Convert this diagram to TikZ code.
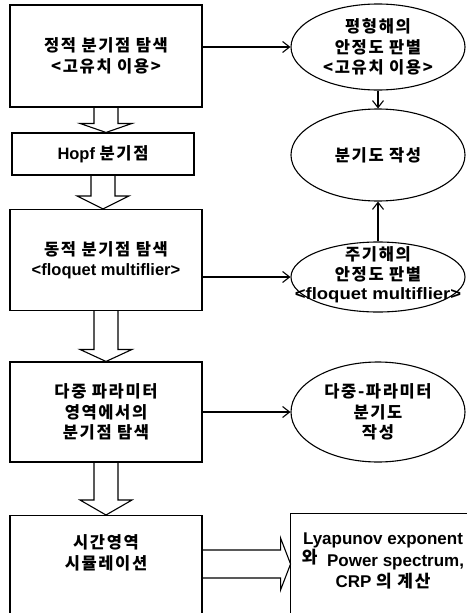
\documentclass[tikz,border=0pt]{standalone}
\usepackage{fontspec}
\setmainfont{Liberation Sans}
\newfontfamily\kr[LetterSpace=10]{Noto Sans CJK KR}
\usepackage{tikz}
\usetikzlibrary{arrows.meta,calc,shapes.geometric}

\begin{document}
\begin{tikzpicture}[x=1pt, y=-1pt, font=\bfseries\fontsize{16.5}{20.5}\selectfont, line width=1.1pt,
  box/.style={draw, minimum width=192pt, align=center, inner sep=0pt},
  oval/.style={draw, ellipse, minimum width=174pt, align=center, inner sep=0pt},
  txt/.style={align=center, inner sep=0pt},
  arr/.style={-{Straight Barb[length=7pt, width=11pt]}},
  fat/.style={line width=1.1pt, line join=miter}]
  \useasboundingbox (0,0) rectangle (466,613);
  % left column
  \node[box, minimum height=102pt] (stat) at (106,56) {{\kr 정적 분기점 탐색}\\{\kr <고유치 이용>}};
  \node[box, minimum width=182pt, minimum height=42pt] (hopf) at (103,154) {Hopf {\kr 분기점}};
  \node[box, minimum height=101pt] (dyn) at (106,260) {{\kr 동적 분기점 탐색}\\<floquet multiflier>};
  \node[box, minimum height=100pt] (multi) at (106,412) {{\kr 다중 파라미터}\\{\kr 영역에서의}\\{\kr 분기점 탐색}};
  \node[box, minimum height=120pt, anchor=north] (sim) at (106,515) {};
  \node[txt] (simtxt) at (106,553) {{\kr 시간영역}\\{\kr 시뮬레이션}};
  % right column
  \node[oval, minimum height=86pt] (eq) at (378,47) {{\kr 평형해의}\\{\kr 안정도 판별}\\{\kr <고유치 이용>}};
  \node[oval, minimum height=92pt] (diag) at (378,155) {{\kr 분기도 작성}};
  \node[oval, minimum height=70pt,
    label={[txt, yshift=2pt, font=\bfseries\fontsize{16.5}{19.5}\selectfont]center:{{\kr 주기해의}\\{\kr 안정도 판별}\\\scalebox{1.12}[1]{<floquet multiflier>}}}]
    (per) at (378,277) {};
  \node[oval, minimum height=100pt] (md) at (378,412) {{\kr 다중-파라미터}\\{\kr 분기도}\\{\kr 작성}};
  \node[box, minimum width=190pt, minimum height=120pt, anchor=north west] (res) at (290,513) {};
  \node[txt, font=\bfseries\fontsize{17}{21.5}\selectfont] (restxt) at (383,561)
    {Lyapunov exponent\\\raisebox{3pt}{\kr 와}\ \ Power spectrum,\\CRP {\kr 의 계산}};
  % connectors
  \draw[arr] (stat.east |- eq.west) -- (eq.west);
  \draw[arr] (eq.south) -- (diag.north);
  \draw[arr] (per.north) -- (diag.south);
  \draw[arr] (dyn.east |- per.west) -- (per.west);
  \draw[arr] (multi.east |- md.west) -- (md.west);
  \foreach \a/\b/\h in {stat/hopf/9, hopf/dyn/13, dyn/multi/12, multi/sim/15}
    \draw[fat] ($(\a.south)+(-12,0)$) -- ($(\a.south |- \b.north)+(-12,-\h)$) -- ++(-14,0)
      -- (\a.south |- \b.north) -- ++(26,-\h) -- ++(-14,0) -- ($(\a.south)+(12,0)$);
  \draw[fat] ($(sim.north east)+(0,35)$) -- ++(78,0) -- ++(0,-12) -- ++(10,26) -- ++(-10,26)
    -- ++(0,-12) -- ++(-78,0);
\end{tikzpicture}
\end{document}
